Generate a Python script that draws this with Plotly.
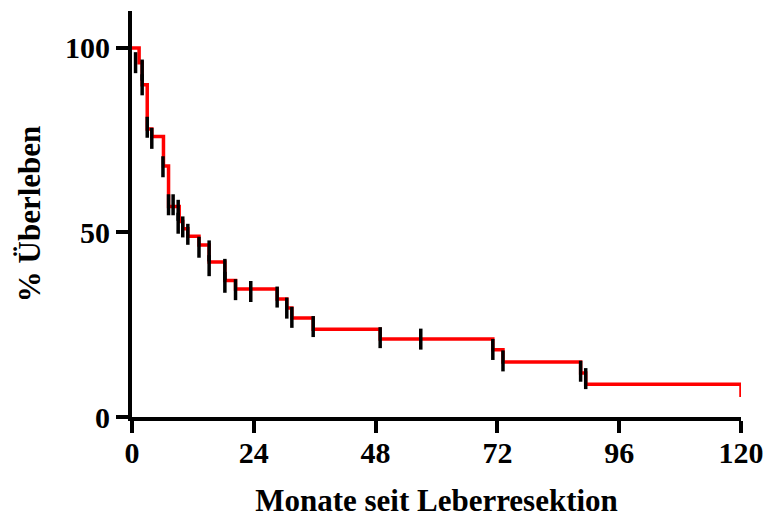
import plotly.graph_objects as go

# Kaplan-Meier step curve (months, % survival)
km_time = [0, 1.4, 2.0, 3.0, 3.9, 6.2, 7.2, 9.3, 10.0, 11.0, 13.2, 15.2, 18.3, 20.4,
           28.6, 30.5, 31.5, 35.7, 48.9, 71.1, 73.1, 88.4, 89.4, 120]
km_surv = [100, 96, 90, 78, 76, 68, 57, 53, 51, 49, 46.6, 42, 37, 34.7,
           32, 29.5, 26.8, 23.8, 21.1, 18.2, 14.9, 11.9, 8.9, 5.4]

# censored observations
cens_time = [0.7, 2.0, 2.0, 3.0, 3.9, 6.1, 7.2, 8.1, 9.1, 9.1, 10.0, 11.0, 13.2, 15.2, 15.2,
             18.3, 18.3, 20.4, 23.4, 28.6, 30.5, 31.5, 35.7, 48.9, 56.9, 71.1, 73.1, 88.4, 89.4]
cens_surv = [96, 94, 90, 78.5, 75.5, 67.8, 57.5, 57.5, 56, 52.5, 51.5, 49.5, 46, 45, 41,
             40, 36.5, 34.5, 34, 32.5, 29.5, 27, 24.5, 21.5, 21.1, 18.3, 15.2, 12.4, 10.4]

x_ticks = [0, 24, 48, 72, 96, 120]
y_ticks = [0, 50, 100]

FONT = "Liberation Serif"

fig = go.Figure()
fig.add_trace(go.Scatter(
    x=km_time, y=km_surv, mode="lines",
    line=dict(color="#FF0000", width=3.5, shape="hv"),
    cliponaxis=False, showlegend=False, hoverinfo="skip"))
fig.add_trace(go.Scatter(
    x=cens_time, y=cens_surv, mode="markers",
    marker=dict(symbol="line-ns", size=15, line=dict(color="black", width=3.5)),
    cliponaxis=False, showlegend=False))

fig.update_layout(
    width=766, height=518,
    margin=dict(l=132, r=25, t=11, b=101),
    paper_bgcolor="white", plot_bgcolor="white",
    font=dict(family=FONT, color="black"),
    xaxis=dict(
        range=[0, 120], tickvals=x_ticks, ticktext=[str(v) for v in x_ticks],
        automargin=False, ticklabelstandoff=-6,
        showgrid=False, zeroline=False, showline=True, linecolor="black", linewidth=4,
        ticks="outside", ticklen=12, tickwidth=4, tickcolor="black",
        tickfont=dict(family=FONT, size=30, color="black", weight="bold"),
        title=dict(text="<b>Monate seit Leberresektion</b>",
                   font=dict(family=FONT, size=31, color="black"), standoff=24),
    ),
    yaxis=dict(
        range=[0, 110], tickvals=y_ticks, ticktext=[str(v) for v in y_ticks],
        automargin=False,
        showgrid=False, zeroline=False, showline=True, linecolor="black", linewidth=4,
        ticks="outside", ticklen=12, tickwidth=4, tickcolor="black",
        tickfont=dict(family=FONT, size=30, color="black", weight="bold"),
        title=dict(text="<b>% Überleben</b>",
                   font=dict(family=FONT, size=31, color="black"), standoff=16),
    ),
)

fig.write_html("out.html")
